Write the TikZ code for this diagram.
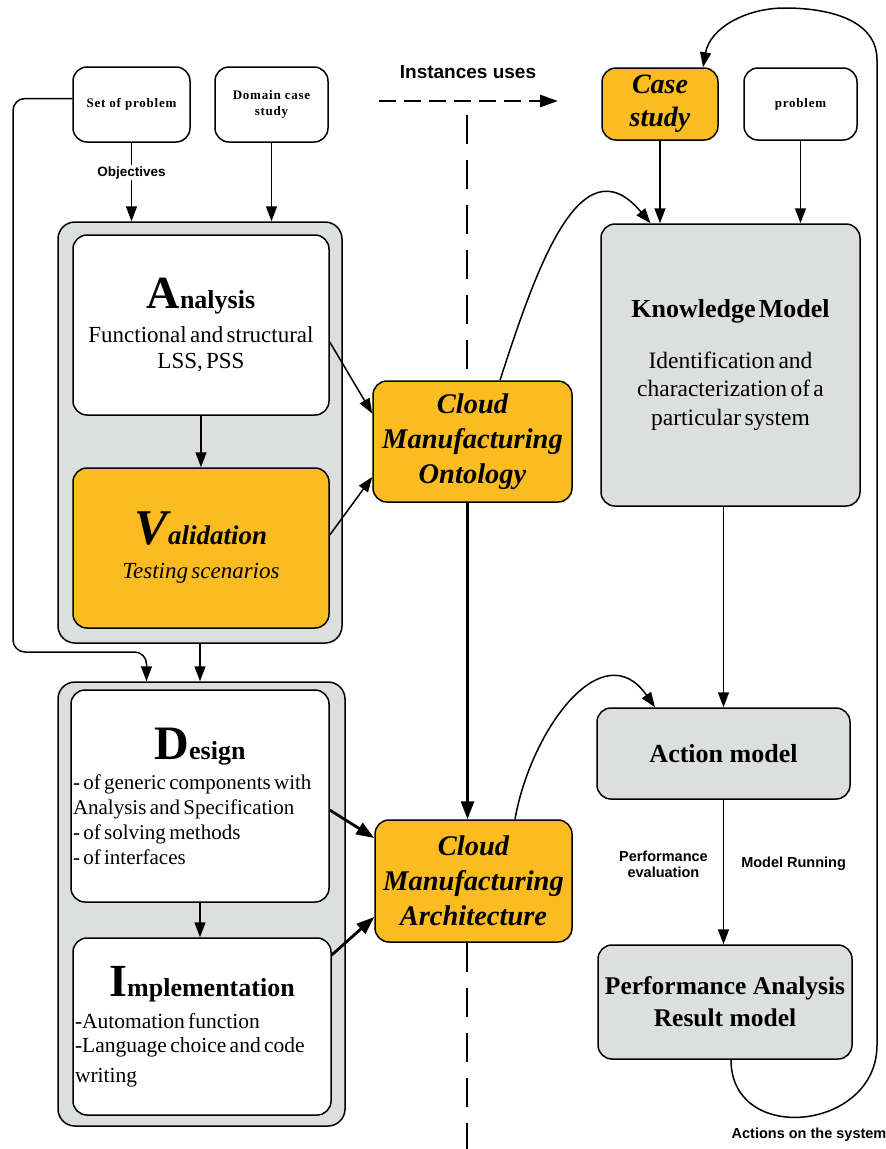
\documentclass[tikz,border=0pt]{standalone}
\usepackage{fontspec}
\setmainfont{Liberation Serif}
\newfontfamily\labelfont{Liberation Sans}
\usetikzlibrary{arrows.meta}
\definecolor{boxorange}{RGB}{251,188,33}
\definecolor{boxgray}{RGB}{221,222,222}
\newcommand\setfs[2]{\fontsize{#1}{#2}\selectfont}
\tikzset{
  box/.style={draw, line width=1.5pt, rounded corners=14pt, align=center, inner sep=2pt},
  whitebox/.style={box, fill=white},
  orangebox/.style={box, fill=boxorange},
  graybox/.style={box, fill=boxgray},
  groupbox/.style={draw, line width=1.5pt, rounded corners=17pt, fill=boxgray},
  smalltxt/.style={font=\bfseries\setfs{13}{15.5}\addfontfeature{LetterSpace=6}},
  cloudtxt/.style={font=\bfseries\itshape\setfs{28.5}{35}},
  lbl/.style={font=\labelfont\bfseries\setfs{13.5}{15}, align=center, inner sep=1pt},
  biglbl/.style={lbl, font=\labelfont\bfseries\setfs{14.5}{16}},
  arr/.style={-{Triangle[length=15pt,width=11pt]}, line width=1.5pt},
  bigarr/.style={-{Triangle[length=18pt,width=13pt]}, line width=2.8pt},
  dasharr/.style={-{Triangle[length=18pt,width=12pt]}, line width=2.8pt, dash pattern=on 17pt off 8pt},
  divide/.style={line width=1.6pt, dash pattern=on 29pt off 16pt},
}
\begin{document}
\begin{tikzpicture}[x=1pt, y=-1pt]
  \useasboundingbox (0,0) rectangle (886,1149);
  % grey groups on the left
  \node[groupbox, minimum width=284pt, minimum height=421pt] (grpA) at (200,432.5) {};
  \node[groupbox, minimum width=287pt, minimum height=444pt] (grpB) at (201.5,904) {};
  % inputs
  \node[whitebox, smalltxt, minimum width=117pt, minimum height=75pt] (setp) at (131.5,104.5) {Set of problem};
  \node[whitebox, smalltxt, minimum width=113pt, minimum height=75pt] (dom) at (271.5,104.5) {Domain case\\study};
  \node[orangebox, font=\bfseries\itshape\setfs{28}{33}, minimum width=116pt, minimum height=72pt] (case) at (660,104) {Case\\study};
  \node[whitebox, smalltxt, minimum width=113pt, minimum height=72pt] (prob) at (800.5,104) {problem};
  % method steps
  \node[whitebox, text width=252pt, minimum height=180pt] (ana) at (201,325)
    {{\bfseries\setfs{46}{46}A\setfs{26}{26}nalysis\par}\vspace{8pt}
     {\setfs{23}{26}Functional and structural\\LSS, PSS\par}};
  \node[orangebox, text width=252pt, minimum height=160pt] (val) at (201,548)
    {{\bfseries\itshape\setfs{50}{50}V\setfs{27}{27}alidation\par}\vspace{8pt}
     {\itshape\setfs{23}{26}Testing scenarios\par}};
  \node[whitebox, text width=254pt, align=left, minimum height=212pt] (des) at (200,796)
    {{\hspace*{\fill}\bfseries\setfs{48}{48}D\setfs{26}{26}esign\hspace*{\fill}\par}\vspace{5pt}
     {\setfs{21}{25}- of generic components with\\Analysis and Specification\\- of solving methods\\- of interfaces\par}};
  \node[whitebox, text width=254pt, align=left, minimum height=177pt] (imp) at (202,1026.5)
    {{\hspace*{\fill}\bfseries\setfs{46}{46}I\setfs{26}{26}mplementation\hspace*{\fill}\par}\vspace{8pt}
     {\setfs{21.5}{24}-Automation function\\-Language choice and code\\[6pt]writing\par}\vspace*{8pt}};
  % cloud manufacturing
  \node[orangebox, cloudtxt, minimum width=199pt, minimum height=121pt] (onto) at (472.5,441.5) {Cloud\\Manufacturing\\Ontology};
  \node[orangebox, cloudtxt, minimum width=197pt, minimum height=122pt] (arch) at (473.5,881) {Cloud\\Manufacturing\\Architecture};
  % models
  \node[graybox, text width=255pt, minimum height=282pt] (km) at (730.5,365)
    {{\bfseries\setfs{26}{28}Knowledge Model\par}\vspace{22pt}
     {\setfs{23.5}{28.5}Identification and\\characterization of a\\particular system\par}};
  \node[graybox, font=\bfseries\setfs{26}{28}, minimum width=253pt, minimum height=91pt] (act) at (723.5,753.5) {Action model};
  \node[graybox, font=\bfseries\setfs{25.5}{32}, minimum width=254pt, minimum height=114pt] (perf) at (725,1002) {Performance Analysis\\Result model};
  % instances
  \node[lbl, font=\labelfont\bfseries\setfs{19}{21}] (inst) at (468,72) {Instances uses};
  \coordinate (instA) at (379,101);
  \coordinate (instB) at (558,101);
  \coordinate (divtop) at (467,115);
  \coordinate (divmid) at (467,369);
  \coordinate (divbot) at (467,1149);
  \coordinate (sideL) at (13,652);
  \coordinate (loopR) at (877,1045);
  \coordinate (loopT) at (877,60);
  \coordinate (apex) at (785,8);
  \begin{scope}
    \draw[dasharr] (instA) -- (instB);
    \draw[divide] (divtop) -- (divmid);
    \draw[divide] (divtop |- arch.south) -- (divbot);
    \draw[arr] (setp.south) -- node[lbl, fill=white, pos=0.38] (obj) {Objectives} (setp.south |- grpA.north);
    \draw[arr] (dom.south) -- (dom.south |- grpA.north);
    \draw[arr, rounded corners=12pt] ([yshift=6pt]setp.west) -| (sideL) -| ([xshift=-55pt]grpB.north);
    \draw[arr] (ana.south) -- (ana.south |- val.north);
    \draw[arr] (grpA.south) -- (grpA.south |- grpB.north);
    \draw[arr] (des.south) -- (des.south |- imp.north);
    \draw[arr] ([yshift=-17pt]ana.east) -- ([yshift=28pt]onto.west);
    \draw[arr] ([yshift=13pt]val.east) -- ([yshift=-35.5pt]onto.west);
    \draw[bigarr] ([yshift=-14pt]des.east) -- ([yshift=43pt]arch.west);
    \draw[bigarr] ([yshift=71.5pt]imp.east) -- ([yshift=-36pt]arch.west);
    \draw[bigarr] ([xshift=-5pt]onto.south) -- ([xshift=-5pt]onto.south |- arch.north);
    \draw[arr] ([xshift=27.5pt]onto.north) to[out=72, in=130, looseness=1.3] ([xshift=-80pt]km.north);
    \draw[arr] ([xshift=41.5pt]arch.north) to[out=80, in=125, looseness=1.3] ([xshift=-68.5pt]act.north);
    \draw[arr] (case.south) -- (case.south |- km.north);
    \draw[arr] (prob.south) -- (prob.south |- km.north);
    \draw[arr] (act.north |- km.south) -- (act.north);
    \draw[arr] (act.south) -- node[biglbl, pos=0.445, left=14pt] (peval) {Performance\\evaluation}
      node[biglbl, pos=0.445, right=16pt] (mrun) {Model Running} (act.south |- perf.north);
    \draw[arr] ([xshift=6pt]perf.south) to[out=-90, in=-90, looseness=1.5] (loopR) -- (loopT)
      to[out=90, in=0] (apex) to[out=180, in=80] ([xshift=43pt]case.north);
  \end{scope}
  \node[biglbl] (actsys) at (809,1135) {Actions on the system};
\end{tikzpicture}
\end{document}
